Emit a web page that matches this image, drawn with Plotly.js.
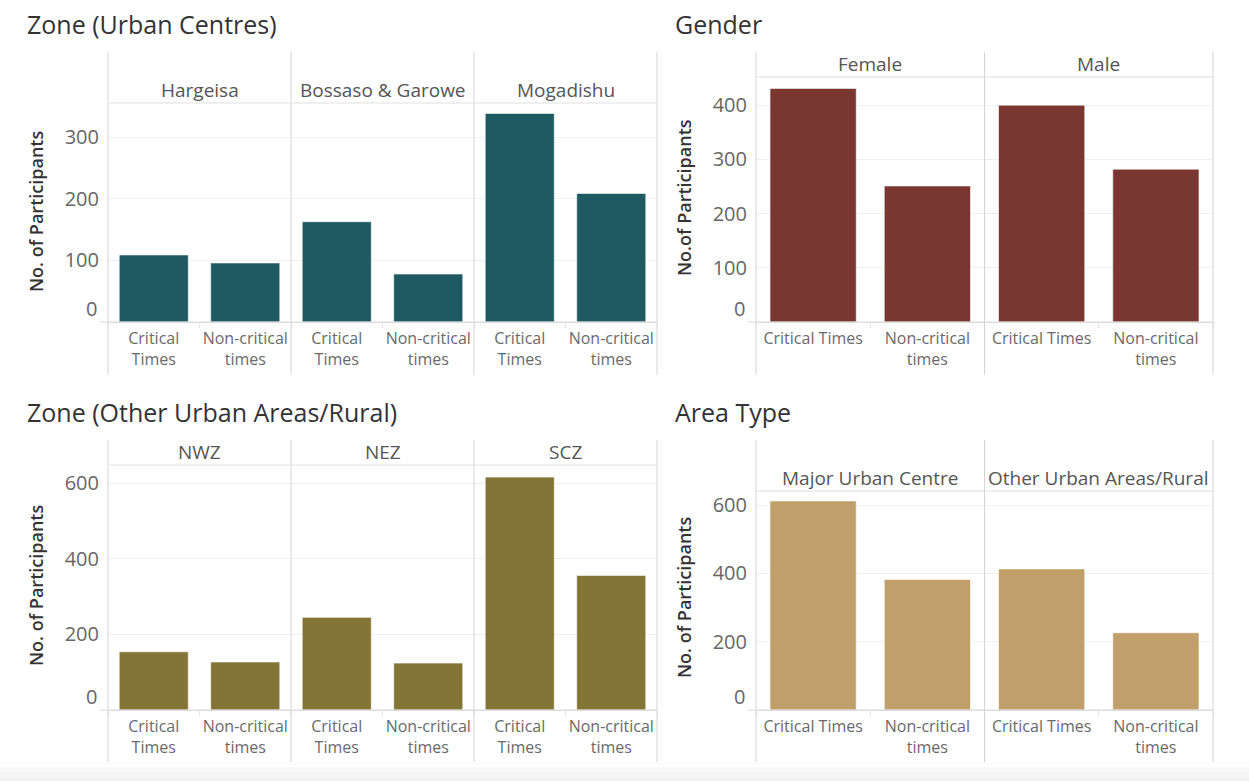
<!DOCTYPE html>
<html>
<head>
<meta charset="utf-8">
<script src="https://cdn.plot.ly/plotly-3.0.1.min.js"></script>
<style>html,body{margin:0;padding:0;background:#fff;}#chart{width:1249px;height:781px;}</style>
</head>
<body>
<div id="chart"></div>
<script>
// ---------- data ----------
const timeCategories = ["Critical Times", "Non-critical times"];
const wrappedTickText = ["Critical<br>Times", "Non-critical<br>times"];
const singleTickText = ["Critical Times", "Non-critical<br>times"];

const urbanZones = ["Hargeisa", "Bossaso & Garowe", "Mogadishu"];
const urbanCritical = [109, 163, 339];
const urbanNonCritical = [96, 78, 209];

const genders = ["Female", "Male"];
const genderCritical = [431, 400];
const genderNonCritical = [251, 282];

const otherZones = ["NWZ", "NEZ", "SCZ"];
const otherCritical = [154, 245, 616];
const otherNonCritical = [127, 124, 356];

const areaTypes = ["Major Urban Centre", "Other Urban Areas/Rural"];
const areaCritical = [612, 413];
const areaNonCritical = [382, 226];

// ---------- layout config ----------
const W = 1249, H = 781;
const px = v => v / W;
const py = v => 1 - v / H;

const panels = [
  {title: "Zone (Urban Centres)", tx: 25, ty: 24, left: 108, right: 657, headTop: 52, headBot: 103, base: 322, bottom: 375,
   yTitle: "No. of Participants", yTitleX: 36, yTitleY: 212, ymax: 356, ticks: [0, 100, 200, 300],
   facets: urbanZones, crit: urbanCritical, non: urbanNonCritical, color: "#1f5a63", tickText: wrappedTickText},
  {title: "Gender", tx: 673, ty: 24, left: 756, right: 1213, headTop: 52, headBot: 77, base: 322, bottom: 375,
   yTitle: "No.of Participants", yTitleX: 684, yTitleY: 198, ymax: 452, ticks: [0, 100, 200, 300, 400],
   facets: genders, crit: genderCritical, non: genderNonCritical, color: "#7a3630", tickText: singleTickText},
  {title: "Zone (Other Urban Areas/Rural)", tx: 25, ty: 412, left: 108, right: 657, headTop: 440, headBot: 465, base: 710, bottom: 762,
   yTitle: "No. of Participants", yTitleX: 36, yTitleY: 586, ymax: 648, ticks: [0, 200, 400, 600],
   facets: otherZones, crit: otherCritical, non: otherNonCritical, color: "#837536", tickText: wrappedTickText},
  {title: "Area Type", tx: 673, ty: 412, left: 756, right: 1213, headTop: 440, headBot: 491, base: 710, bottom: 762,
   yTitle: "No. of Participants", yTitleX: 684, yTitleY: 598, ymax: 641, ticks: [0, 200, 400, 600],
   facets: areaTypes, crit: areaCritical, non: areaNonCritical, color: "#c19f6b", tickText: singleTickText}
];

const FONT = "'Open Sans', 'Noto Sans', sans-serif";
const traces = [];
const layout = {
  width: W, height: H, autosize: false,
  margin: {l: 0, r: 0, t: 0, b: 0},
  paper_bgcolor: "#ffffff", plot_bgcolor: "rgba(0,0,0,0)",
  showlegend: false, bargap: 0.245,
  font: {family: FONT, color: "#666"},
  annotations: [], shapes: []
};

// bottom gradient strip
const strip = [[762, 767, "#fdfdfd"], [767, 772, "#f9f9f9"], [772, 777, "#f5f5f5"], [777, 781, "#f2f2f2"]];
strip.forEach(s => layout.shapes.push({type: "rect", xref: "paper", yref: "paper", x0: 0, x1: 1, y0: py(s[1]), y1: py(s[0]),
  fillcolor: s[2], line: {width: 0}, layer: "below"}));

let xi = 0;
panels.forEach((p, i) => {
  const yId = i === 0 ? "y" : "y" + (i + 1);
  const yKey = i === 0 ? "yaxis" : "yaxis" + (i + 1);
  const n = p.facets.length;
  const fw = (p.right - p.left) / n;
  let firstX = null;
  p.facets.forEach((f, j) => {
    xi++;
    const xId = xi === 1 ? "x" : "x" + xi;
    const xKey = xi === 1 ? "xaxis" : "xaxis" + xi;
    if (firstX === null) firstX = xId;
    const fl = p.left + j * fw, fr = fl + fw;
    traces.push({
      type: "bar", x: timeCategories, y: [p.crit[j], p.non[j]],
      xaxis: xId, yaxis: yId,
      marker: {color: p.color, line: {color: "rgba(255,255,255,0.6)", width: 1}},
      hoverinfo: "x+y"
    });
    layout[xKey] = {
      domain: [px(fl), px(fr)], anchor: yId, type: "category",
      tickvals: timeCategories, ticktext: p.tickText, tickson: "boundaries", tickangle: 0,
      ticks: "outside", ticklen: 5, tickcolor: "#e6e6e6", tickwidth: 1,
      showline: true, linecolor: "#dcdcdc", linewidth: 1,
      showgrid: false, zeroline: false, fixedrange: true,
      tickfont: {family: FONT, size: 16, color: "#6a6a6a"}, ticklabelstandoff: 2
    };
    // facet header
    layout.annotations.push({xref: "paper", yref: "paper", x: px((fl + fr) / 2), y: py(p.headBot),
      xanchor: "center", yanchor: "bottom", yshift: -2, showarrow: false, text: f,
      font: {family: FONT, size: 19, color: "#555"}});
  });
  layout[yKey] = {
    domain: [py(p.base), py(p.headBot)], anchor: firstX, range: [0, p.ymax],
    tickvals: p.ticks, ticktext: p.ticks.map(t => t === 0 ? "" : String(t)),
    showgrid: true, gridcolor: "#efefef", gridwidth: 1, zeroline: false,
    showline: false, ticks: "", ticklabelstandoff: 8, fixedrange: true,
    tickfont: {family: FONT, size: 20, color: "#666"}
  };
  // raised zero label
  layout.annotations.push({xref: "paper", yref: yId, x: px(p.left - 9), y: 0, xanchor: "right", yanchor: "bottom",
    showarrow: false, text: "0", font: {family: FONT, size: 20, color: "#666"}, yshift: -2});
  // panel title
  layout.annotations.push({xref: "paper", yref: "paper", x: px(p.tx), y: py(p.ty), xanchor: "left", yanchor: "middle",
    showarrow: false, text: p.title, font: {family: FONT, size: 25, color: "#333"}});
  // y title
  layout.annotations.push({xref: "paper", yref: "paper", x: px(p.yTitleX), y: py(p.yTitleY), xanchor: "center", yanchor: "middle",
    showarrow: false, text: p.yTitle, textangle: -90, font: {family: FONT, size: 18, color: "#333", weight: 600}});
  // facet dividers
  for (let j = 0; j <= n; j++) {
    const x = p.left + j * fw;
    layout.shapes.push({type: "line", xref: "paper", yref: "paper", x0: px(x), x1: px(x), y0: py(p.bottom), y1: py(p.headTop),
      line: {color: "#d4d4d4", width: 1}});
  }
  // header bottom line
  layout.shapes.push({type: "line", xref: "paper", yref: "paper", x0: px(p.left), x1: px(p.right), y0: py(p.headBot), y1: py(p.headBot),
    line: {color: "#e0e0e0", width: 1}});
  // baseline extension
  layout.shapes.push({type: "line", xref: "paper", yref: "paper", x0: px(p.left - 8), x1: px(p.right), y0: py(p.base), y1: py(p.base),
    line: {color: "#dcdcdc", width: 1}});
});

Plotly.newPlot("chart", traces, layout, {displayModeBar: false, staticPlot: true});
</script>
</body>
</html>
